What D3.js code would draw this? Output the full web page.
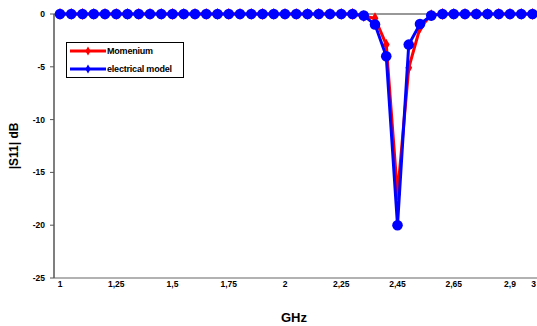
<!DOCTYPE html>
<html>
<head>
<meta charset="utf-8">
<script src="https://cdn.jsdelivr.net/npm/d3@7"></script>
<style>
  body { margin: 0; background: #fff; }
  svg { display: block; font-family: "Liberation Sans", Arial, sans-serif; font-weight: bold; }
</style>
</head>
<body>
<div id="chart"></div>
<script>
// frequency categories (GHz), one per point
const freqs = [1.00, 1.05, 1.10, 1.15, 1.20, 1.25, 1.30, 1.35, 1.40, 1.45,
               1.50, 1.55, 1.60, 1.65, 1.70, 1.75, 1.80, 1.85, 1.90, 1.95,
               2.00, 2.05, 2.10, 2.15, 2.20, 2.25, 2.29, 2.33, 2.37, 2.41,
               2.45, 2.49, 2.53, 2.57, 2.61, 2.65, 2.70, 2.75, 2.80, 2.85,
               2.90, 2.95, 3.00];

// |S11| in dB
const momentum = [0, 0, 0, 0, 0, 0, 0, 0, 0, 0,
                  0, 0, 0, 0, 0, 0, 0, 0, 0, 0,
                  0, 0, 0, 0, 0, 0, 0, -0.2, -0.4, -2.9,
                  -17.1, -5.1, -1.3, -0.1, 0, 0, 0, 0, 0, 0,
                  0, 0, 0];
const electrical = [0, 0, 0, 0, 0, 0, 0, 0, 0, 0,
                    0, 0, 0, 0, 0, 0, 0, 0, 0, 0,
                    0, 0, 0, 0, 0, 0, 0, -0.15, -1.0, -4.0,
                    -20.0, -2.9, -0.95, -0.15, 0, 0, 0, 0, 0, 0,
                    0, 0, 0];

const xTickIdx = [0, 5, 10, 15, 20, 25, 30, 35, 40, 42];
const yTicks = [0, -5, -10, -15, -20, -25];

const cfg = { width: 537, height: 326, left: 54, right: 0, top: 14, bottom: 48 };

const svg = d3.select("#chart").append("svg")
    .attr("width", cfg.width)
    .attr("height", cfg.height);

const x = d3.scaleLinear()
    .domain([0, freqs.length - 1])
    .range([60, 532.5]);
const y = d3.scaleLinear()
    .domain([-25, 0])
    .range([cfg.height - cfg.bottom, cfg.top]);

// top border line at 0 dB
svg.append("line")
    .attr("x1", cfg.left).attr("x2", cfg.width)
    .attr("y1", y(0)).attr("y2", y(0))
    .attr("stroke", "#333").attr("stroke-width", 1.2);

// x axis
svg.append("line")
    .attr("x1", cfg.left).attr("x2", cfg.width)
    .attr("y1", y(-25)).attr("y2", y(-25))
    .attr("stroke", "#999").attr("stroke-width", 1.5);

// last label is pushed against the right edge
const lastIdx = freqs.length - 1;
svg.append("g")
    .selectAll("text")
    .data(xTickIdx)
    .enter().append("text")
        .attr("x", d => d === lastIdx ? cfg.width - 1 : x(d))
        .attr("y", 287)
        .attr("text-anchor", d => d === lastIdx ? "end" : "middle")
        .style("font-size", "8.5px")
        .text(d => String(freqs[d]).replace(".", ","));

// y axis
svg.append("line")
    .attr("x1", cfg.left).attr("x2", cfg.left)
    .attr("y1", y(0)).attr("y2", y(-25))
    .attr("stroke", "#555").attr("stroke-width", 1.5);

const yt = svg.append("g").selectAll("g")
    .data(yTicks)
    .enter().append("g");
yt.append("line")
    .attr("x1", cfg.left - 4).attr("x2", cfg.left)
    .attr("y1", d => y(d)).attr("y2", d => y(d))
    .attr("stroke", "#555").attr("stroke-width", 1);
yt.append("text")
    .attr("x", 45)
    .attr("y", d => y(d))
    .attr("dy", "0.35em")
    .attr("text-anchor", "end")
    .style("font-size", "8.5px")
    .text(d => d);

// axis titles
svg.append("text")
    .attr("x", 294).attr("y", 322)
    .attr("text-anchor", "middle")
    .style("font-size", "13px")
    .text("GHz");
svg.append("text")
    .attr("transform", "translate(18,146) rotate(-90)")
    .attr("text-anchor", "middle")
    .style("font-size", "12px")
    .text("|S11| dB");

// series
const line = d3.line()
    .x((d, i) => x(i))
    .y(d => y(d));

const diamond = d3.symbol().type(d3.symbolDiamond).size(40);

svg.append("path")
    .datum(momentum)
    .attr("fill", "none")
    .attr("stroke", "#ff0000")
    .attr("stroke-width", 3)
    .attr("d", line);
svg.append("g").selectAll("path")
    .data(momentum)
    .enter().append("path")
        .attr("transform", (d, i) => `translate(${x(i)},${y(d)})`)
        .attr("d", diamond)
        .attr("fill", "#ff0000");

svg.append("path")
    .datum(electrical)
    .attr("fill", "none")
    .attr("stroke", "#0000ff")
    .attr("stroke-width", 3)
    .attr("d", line);
svg.append("g").selectAll("circle")
    .data(electrical)
    .enter().append("circle")
        .attr("cx", (d, i) => x(i))
        .attr("cy", d => y(d))
        .attr("r", 5.3)
        .attr("fill", "#0000ff");

// legend
const legend = svg.append("g");
legend.append("rect")
    .attr("x", 66.5).attr("y", 42.5)
    .attr("width", 117).attr("height", 35)
    .attr("fill", "#fff")
    .attr("stroke", "#000").attr("stroke-width", 1);

const legendItems = [
    { name: "Momenium", color: "#ff0000", y: 51 },
    { name: "electrical model", color: "#0000ff", y: 69 }
];
const li = legend.selectAll(".legend")
    .data(legendItems)
    .enter().append("g")
    .attr("class", "legend");
li.append("line")
    .attr("x1", 70).attr("x2", 106)
    .attr("y1", d => d.y).attr("y2", d => d.y)
    .attr("stroke", d => d.color).attr("stroke-width", 3);
li.append("path")
    .attr("transform", d => `translate(88,${d.y})`)
    .attr("d", d3.symbol().type(d3.symbolDiamond).size(24))
    .attr("fill", d => d.color);
li.append("text")
    .attr("x", 107)
    .attr("y", d => d.y)
    .attr("dy", "0.35em")
    .style("font-size", "9px")
    .style("letter-spacing", "-0.2px")
    .text(d => d.name);
</script>
</body>
</html>
